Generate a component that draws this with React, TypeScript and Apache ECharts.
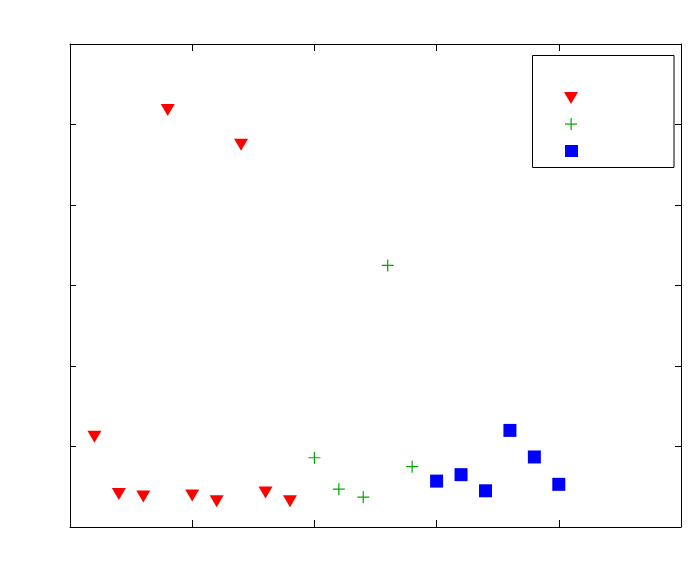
import React, { useEffect, useRef } from "react";
import * as echarts from "echarts";

const redX = [1, 2, 3, 4, 5, 6, 7, 8, 9];
const redY = [1.12, 0.41, 0.38, 5.18, 0.39, 0.32, 4.75, 0.43, 0.32];
const greenX = [10, 11, 12, 13, 14];
const greenY = [0.86, 0.47, 0.37, 3.25, 0.75];
const blueX = [15, 16, 17, 18, 19, 20];
const blueY = [0.57, 0.65, 0.45, 1.2, 0.87, 0.53];

const pair = (xs: number[], ys: number[]) => xs.map((x, i) => [x, ys[i]]);

const PLUS = "path://M0,5.4 L12,5.4 L12,6.6 L0,6.6 Z M5.4,0 L6.6,0 L6.6,12 L5.4,12 Z";

export default function App() {
  const ref = useRef<HTMLDivElement>(null);
  useEffect(() => {
    if (!ref.current) return;
    const chart = echarts.init(ref.current, null, { renderer: "svg" });
    const axisCommon = {
      axisLine: { show: true, onZero: false, lineStyle: { color: "#000", width: 1 } },
      axisLabel: { show: false },
      splitLine: { show: false },
    };
    chart.setOption({
      animation: false,
      backgroundColor: "#fff",
      grid: { left: 70, top: 44, right: 17, bottom: 49, containLabel: false },
      xAxis: [
        { type: "value", min: 0, max: 25, interval: 5, position: "bottom", ...axisCommon,
          axisTick: { show: true, inside: true, length: 7, lineStyle: { color: "#000" } } },
        { type: "value", min: 0, max: 25, interval: 5, position: "top", ...axisCommon,
          axisTick: { show: true, inside: true, length: 7, lineStyle: { color: "#000" } } },
      ],
      yAxis: [
        { type: "value", min: 0, max: 6, interval: 1, position: "left", ...axisCommon,
          axisTick: { show: true, inside: true, length: 6, lineStyle: { color: "#000" } } },
        { type: "value", min: 0, max: 6, interval: 1, position: "right", ...axisCommon,
          axisTick: { show: true, inside: true, length: 6, lineStyle: { color: "#000" } } },
      ],
      series: [
        { type: "scatter", data: pair(redX, redY), symbol: "triangle", symbolRotate: 180,
          symbolSize: [14, 12], itemStyle: { color: "#ff0000", opacity: 1 } },
        { type: "scatter", data: pair(greenX, greenY), symbol: PLUS, symbolSize: 12,
          itemStyle: { color: "#00a800", opacity: 1 } },
        { type: "scatter", data: pair(blueX, blueY), symbol: "rect", symbolSize: 13,
          itemStyle: { color: "#0000ff", opacity: 1 } },
      ],
      graphic: [
        { type: "rect", shape: { x: 532.5, y: 55.5, width: 141.5, height: 112 },
          style: { fill: "#fff", stroke: "#000", lineWidth: 1 }, z: 100 },
        { type: "polygon", shape: { points: [[564, 92], [578, 92], [571, 104]] },
          style: { fill: "#ff0000" }, z: 101 },
        { type: "rect", shape: { x: 565, y: 123.5, width: 12, height: 1.2 },
          style: { fill: "#00a800" }, z: 101 },
        { type: "rect", shape: { x: 570.5, y: 118, width: 1.2, height: 12 },
          style: { fill: "#00a800" }, z: 101 },
        { type: "rect", shape: { x: 565, y: 145, width: 13, height: 12 },
          style: { fill: "#0000ff" }, z: 101 },
      ],
    });
    return () => chart.dispose();
  }, []);
  return (
    <div
      ref={ref}
      style={{ position: "fixed", left: 0, top: 0, width: 698, height: 576, background: "#fff" }}
    />
  );
}
